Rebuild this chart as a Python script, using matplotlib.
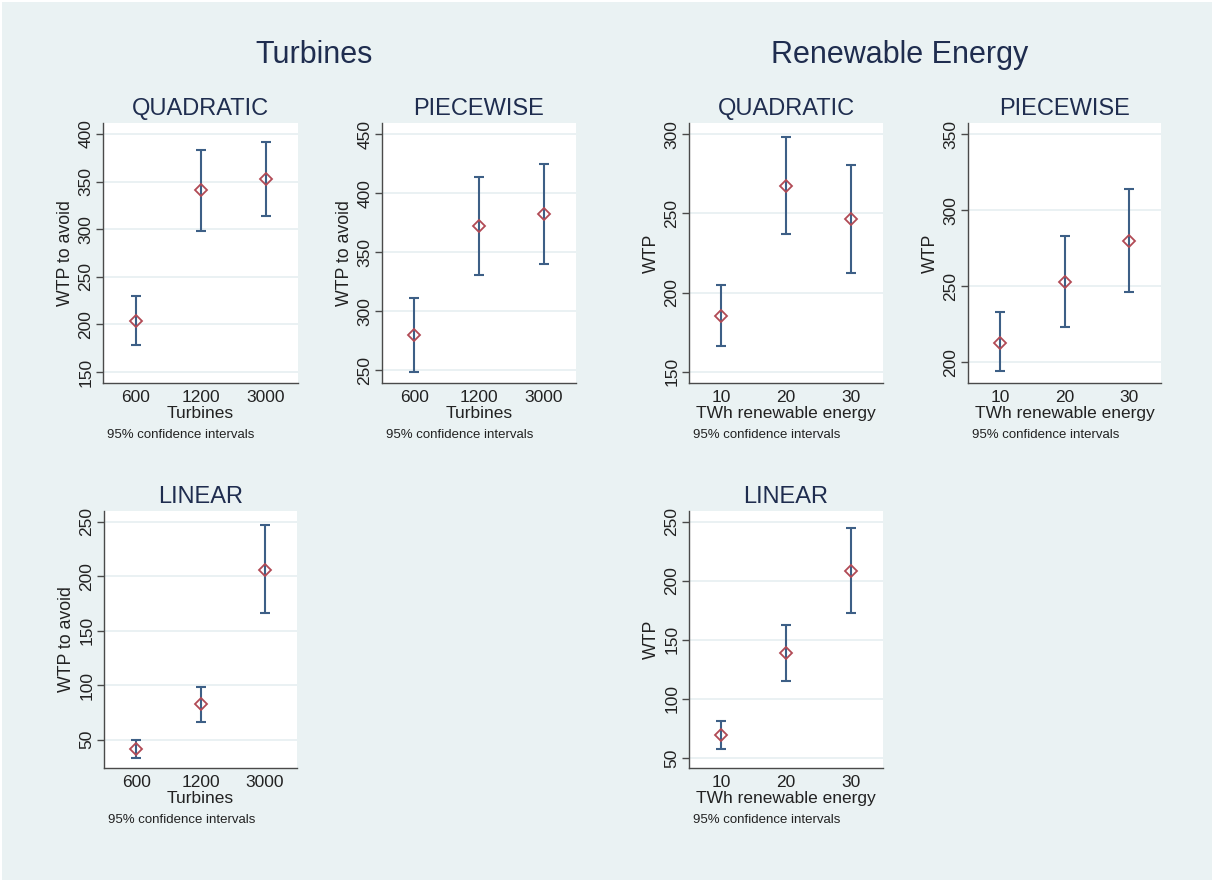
import matplotlib.pyplot as plt
from matplotlib.patches import Rectangle

plt.rcParams['font.family'] = ['Liberation Sans', 'DejaVu Sans']

W, H = 1212, 884
BG = '#eaf2f3'
NAVY = '#1f2d4f'
BAR = '#3d5f86'
MARK = '#b14a55'

# ---------- Data ----------
turb_levels = ['600', '1200', '3000']
re_levels = ['10', '20', '30']

turb_quad = [204, 341, 353]
turb_quad_lo = [178, 298.5, 314]
turb_quad_hi = [230, 383, 392]

turb_piece = [280, 372, 382]
turb_piece_lo = [248, 331, 340]
turb_piece_hi = [311.5, 414, 425]

turb_lin = [41.4, 82.6, 206]
turb_lin_lo = [33.4, 66.4, 165.8]
turb_lin_hi = [49.3, 98.7, 247.3]

re_quad = [185, 267.5, 246.5]
re_quad_lo = [166, 237, 212.5]
re_quad_hi = [204.7, 298.3, 280.6]

re_piece = [213, 252.6, 279.8]
re_piece_lo = [194, 223, 246.3]
re_piece_hi = [233, 283.3, 313.8]

re_lin = [69.4, 138.9, 208.3]
re_lin_lo = [57.6, 115.2, 172.4]
re_lin_hi = [81.7, 162.8, 244.4]

fig = plt.figure(figsize=(W / 100, H / 100), dpi=100)
fig.patch.set_facecolor('white')
fig.patches.append(Rectangle((2 / W, 4 / H), 1 - 2 / W, 1 - 6 / H,
                             transform=fig.transFigure, facecolor=BG,
                             edgecolor='none', zorder=-10))


def px_rect(left, right, top, bottom):
    return [left / W, 1 - bottom / H, (right - left) / W, (bottom - top) / H]


def panel(rect, title, levels, est, lo, hi, ylim, yticks, xlabel, ylabel):
    ax = fig.add_axes(px_rect(*rect))
    ax.set_facecolor('white')
    x = [1, 2, 3]
    err = [[e - l for e, l in zip(est, lo)], [h - e for e, h in zip(est, hi)]]
    ax.errorbar(x, est, yerr=err, fmt='none', ecolor=BAR, elinewidth=1.5,
                capsize=3.3, capthick=1.5, zorder=2)
    ax.plot(x, est, linestyle='none', marker='D', markersize=6.3,
            markerfacecolor='none', markeredgecolor=MARK, markeredgewidth=1.3,
            zorder=3)
    ax.set_xlim(0.5, 3.5)
    ax.set_ylim(*ylim)
    ax.set_xticks(x)
    ax.set_xticklabels(levels)
    ax.set_yticks(yticks)
    ax.grid(axis='y', color='#e6eff1', linewidth=1.2, zorder=0)
    ax.set_axisbelow(True)
    for s in ['top', 'right']:
        ax.spines[s].set_visible(False)
    for s in ['left', 'bottom']:
        ax.spines[s].set_color('#4a4a4a')
        ax.spines[s].set_linewidth(1.0)
    ax.tick_params(axis='both', colors='#4a4a4a', labelcolor='#222222',
                   labelsize=12.5, width=1.0)
    ax.tick_params(axis='y', labelrotation=90, length=5, pad=2)
    ax.tick_params(axis='x', length=0, pad=5)
    for lab in ax.get_yticklabels():
        lab.set_va('center')
    ax.set_title(title, fontsize=17, color=NAVY, pad=6)
    ax.set_xlabel(xlabel, fontsize=12.5, color='#222222', labelpad=0.5)
    ax.set_ylabel(ylabel, fontsize=12.8, color='#222222', labelpad=3)
    left, right, top, bottom = rect
    fig.text((left + 4) / W, 1 - (bottom + 52) / H, '95% confidence intervals',
             fontsize=9.5, color='#222222', ha='left', va='center')
    return ax


panel((103, 298, 123, 383), 'QUADRATIC', turb_levels, turb_quad, turb_quad_lo,
      turb_quad_hi, (138.5, 411.5), [150, 200, 250, 300, 350, 400],
      'Turbines', 'WTP to avoid')
panel((382, 576, 123, 383), 'PIECEWISE', turb_levels, turb_piece, turb_piece_lo,
      turb_piece_hi, (239, 459.6), [250, 300, 350, 400, 450],
      'Turbines', 'WTP to avoid')
panel((689, 883, 123, 383), 'QUADRATIC', re_levels, re_quad, re_quad_lo,
      re_quad_hi, (142.9, 307.1), [150, 200, 250, 300],
      'TWh renewable energy', 'WTP')
panel((968, 1161, 123, 383), 'PIECEWISE', re_levels, re_piece, re_piece_lo,
      re_piece_hi, (186.4, 357.4), [200, 250, 300, 350],
      'TWh renewable energy', 'WTP')
panel((104, 297, 511, 768), 'LINEAR', turb_levels, turb_lin, turb_lin_lo,
      turb_lin_hi, (24, 259.7), [50, 100, 150, 200, 250],
      'Turbines', 'WTP to avoid')
panel((689, 883, 511, 768), 'LINEAR', re_levels, re_lin, re_lin_lo,
      re_lin_hi, (41.6, 259), [50, 100, 150, 200, 250],
      'TWh renewable energy', 'WTP')

fig.text(314 / W, 1 - 55 / H, 'Turbines', fontsize=22, color=NAVY,
         ha='center', va='center')
fig.text(900 / W, 1 - 55 / H, 'Renewable Energy', fontsize=22, color=NAVY,
         ha='center', va='center')

fig.savefig('out.png', dpi=100, facecolor=fig.get_facecolor())
